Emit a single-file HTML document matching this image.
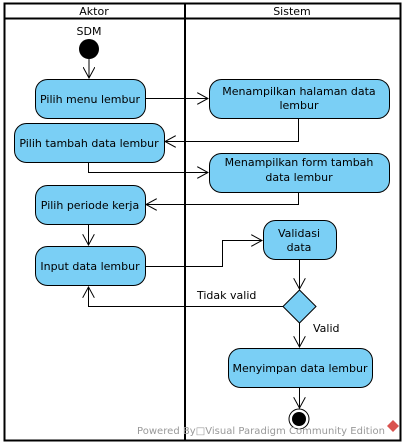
<!DOCTYPE html>
<html><head><meta charset="utf-8"><style>
html,body{margin:0;padding:0;background:#fff;width:405px;height:447px;overflow:hidden}
svg{display:block}
text{font-family:"DejaVu Sans","Liberation Sans",sans-serif;font-size:11px;fill:#000}
</style></head><body>
<svg width="405" height="447" viewBox="0 0 405 447" xmlns="http://www.w3.org/2000/svg">
<defs>
<marker id="a" markerWidth="12" markerHeight="12" refX="11" refY="6" orient="auto" markerUnits="userSpaceOnUse">
<path d="M0,0 L11,6 L0,12" fill="none" stroke="#000" stroke-width="1"/>
</marker>
</defs>
<rect x="4.5" y="3.5" width="396" height="437" fill="#fff" stroke="#000" stroke-width="2"/>
<line x1="4" y1="18.5" x2="400" y2="18.5" stroke="#000" stroke-width="2"/>
<line x1="185" y1="3" x2="185" y2="441" stroke="#000" stroke-width="2"/>
<text x="94" y="15" text-anchor="middle">Aktor</text>
<text x="292" y="15" text-anchor="middle">Sistem</text>

<g fill="#7acff5" stroke="#000" stroke-width="1">
<rect x="35.5" y="79.5" width="110" height="39" rx="12"/>
<rect x="209.5" y="79.5" width="180" height="39" rx="12"/>
<rect x="14.5" y="123.5" width="150" height="39" rx="12"/>
<rect x="209.5" y="153.5" width="180" height="39" rx="12"/>
<rect x="35.5" y="185.5" width="110" height="39" rx="12"/>
<rect x="35.5" y="246.5" width="110" height="39" rx="12"/>
<rect x="263.5" y="220.5" width="73" height="39" rx="12"/>
<path d="M299.5,290 L316,306.5 L299.5,323 L283,306.5 Z"/>
<rect x="228.5" y="348.5" width="144" height="39" rx="12"/>
</g>

<text x="89" y="35" text-anchor="middle">SDM</text>
<circle cx="89" cy="49" r="10" fill="#000"/>
<circle cx="299" cy="419" r="10" fill="#fff" stroke="#000" stroke-width="1"/>
<circle cx="299" cy="419" r="7" fill="#000"/>

<text x="90" y="103" text-anchor="middle">Pilih menu lembur</text>
<text x="299" y="95" text-anchor="middle">Menampilkan halaman data</text>
<text x="299" y="109" text-anchor="middle">lembur</text>
<text x="89" y="147" text-anchor="middle">Pilih tambah data lembur</text>
<text x="299" y="166" text-anchor="middle">Menampilkan form tambah</text>
<text x="299" y="181" text-anchor="middle">data lembur</text>
<text x="90" y="209" text-anchor="middle">Pilih periode kerja</text>
<text x="90" y="270" text-anchor="middle">Input data lembur</text>
<text x="299" y="237" text-anchor="middle">Validasi</text>
<text x="299" y="251" text-anchor="middle">data</text>
<text x="300" y="372" text-anchor="middle">Menyimpan data lembur</text>
<text x="197" y="299">Tidak valid</text>
<text x="313" y="332">Valid</text>

<g fill="none" stroke="#000" stroke-width="1" marker-end="url(#a)">
<path d="M89,59 V78"/>
<path d="M146,98.5 H208"/>
<path d="M298.5,119 V141.5 H165"/>
<path d="M88.5,163 V172.5 H208"/>
<path d="M298.5,193 V204.5 H146"/>
<path d="M88.5,225 V245"/>
<path d="M146,266.5 H222.5 V240.5 H262"/>
<path d="M299.5,260 V289"/>
<path d="M283,306.5 H88.5 V287"/>
<path d="M299.5,323 V347"/>
<path d="M299.5,388 V408"/>
</g>
<text x="137" y="434" style="font-size:10px;fill:#999" textLength="248">Powered By□Visual Paradigm Community Edition</text>
<path d="M393,420 L399,426 L393,432 L387,426 Z" fill="#d9534f"/>
</svg>
</body></html>
